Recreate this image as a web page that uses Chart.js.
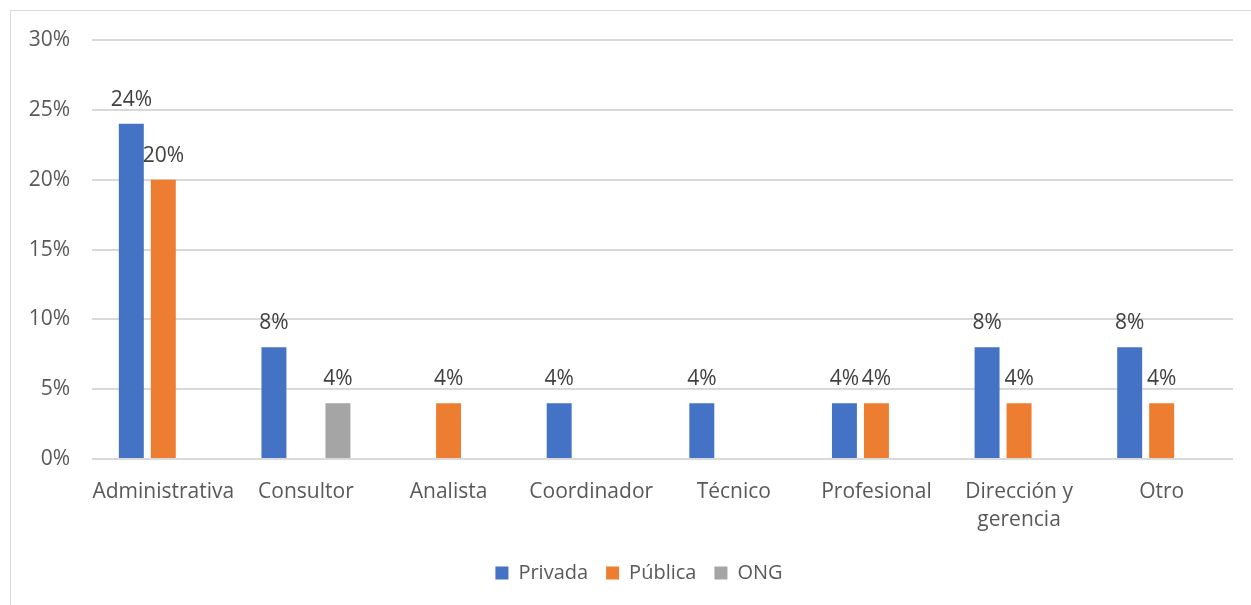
<!DOCTYPE html>
<html>
<head>
<meta charset="utf-8">
<script src="https://cdn.jsdelivr.net/npm/chart.js@4/dist/chart.umd.min.js"></script>
<style>
  html, body { margin: 0; padding: 0; background: #fff; }
  #frame { position: absolute; left: 10px; top: 10px; width: 1250px; height: 600px; border: 1px solid #d9d9d9; box-sizing: border-box; }
  #wrap { position: absolute; left: 0; top: 0; width: 1251px; height: 605px; }
</style>
</head>
<body>
<div id="frame"></div>
<div id="wrap"><canvas id="chart"></canvas></div>
<script>
const categories = ["Administrativa", "Consultor", "Analista", "Coordinador", "Técnico", "Profesional", ["Dirección y", "gerencia"], "Otro"];
const privada = [24, 8, null, 4, 4, 4, 8, 8];
const publica = [20, null, 4, null, null, 4, 4, 4];
const ong = [null, 4, null, null, null, null, null, null];
const yTicks = [0, 5, 10, 15, 20, 25, 30];

const FONT = "'Open Sans', 'DejaVu Sans', sans-serif";

// value labels above each bar
const barLabels = {
  id: "barLabels",
  afterDatasetsDraw(chart) {
    const ctx = chart.ctx;
    ctx.save();
    ctx.font = "21px " + FONT;
    ctx.fillStyle = "#404040";
    ctx.textAlign = "center";
    ctx.textBaseline = "alphabetic";
    chart.data.datasets.forEach((ds, i) => {
      chart.getDatasetMeta(i).data.forEach((bar, j) => {
        const v = ds.data[j];
        if (v == null) return;
        ctx.fillText(v + "%", bar.x, bar.y - 18);
      });
    });
    ctx.restore();
  }
};

// legend is centred on the framed box, a bit right of the canvas centre
const shiftLegend = {
  id: "shiftLegend",
  afterLayout(chart) {
    const lg = chart.legend;
    if (!lg) return;
    const dx = (chart.width + 27) / 2 - (lg.left + lg.right) / 2;
    lg.left += dx;
    lg.right += dx;
  }
};

new Chart(document.getElementById("chart"), {
  type: "bar",
  data: {
    labels: categories,
    datasets: [
      { label: "Privada", data: privada, backgroundColor: "#4472C4" },
      { label: "Pública", data: publica, backgroundColor: "#ED7D31" },
      { label: "ONG", data: ong, backgroundColor: "#A5A5A5" }
    ]
  },
  options: {
    responsive: true,
    maintainAspectRatio: false,
    animation: false,
    layout: { padding: { left: 20, right: 18, top: 40, bottom: 12 } },
    datasets: { bar: { barPercentage: 0.78, categoryPercentage: 0.673 } },
    plugins: {
      legend: {
        position: "bottom",
        labels: { boxWidth: 13, boxHeight: 13, padding: 18, color: "#595959", font: { family: FONT, size: 20 } }
      },
      tooltip: { enabled: false }
    },
    scales: {
      x: {
        grid: { display: false },
        border: { display: false },
        ticks: { color: "#595959", font: { family: FONT, size: 21, lineHeight: 1.38 }, padding: 10, maxRotation: 0, autoSkip: false }
      },
      y: {
        min: 0,
        max: 30,
        afterFit(scale) { scale.width = 72; },
        afterBuildTicks(scale) { scale.ticks = yTicks.map(v => ({ value: v })); },
        grid: { color: "#d9d9d9", lineWidth: 2, drawTicks: false },
        border: { display: false },
        ticks: { color: "#595959", font: { family: FONT, size: 21 }, padding: 22, callback: v => v + "%" }
      }
    }
  },
  plugins: [barLabels, shiftLegend]
});
</script>
</body>
</html>
